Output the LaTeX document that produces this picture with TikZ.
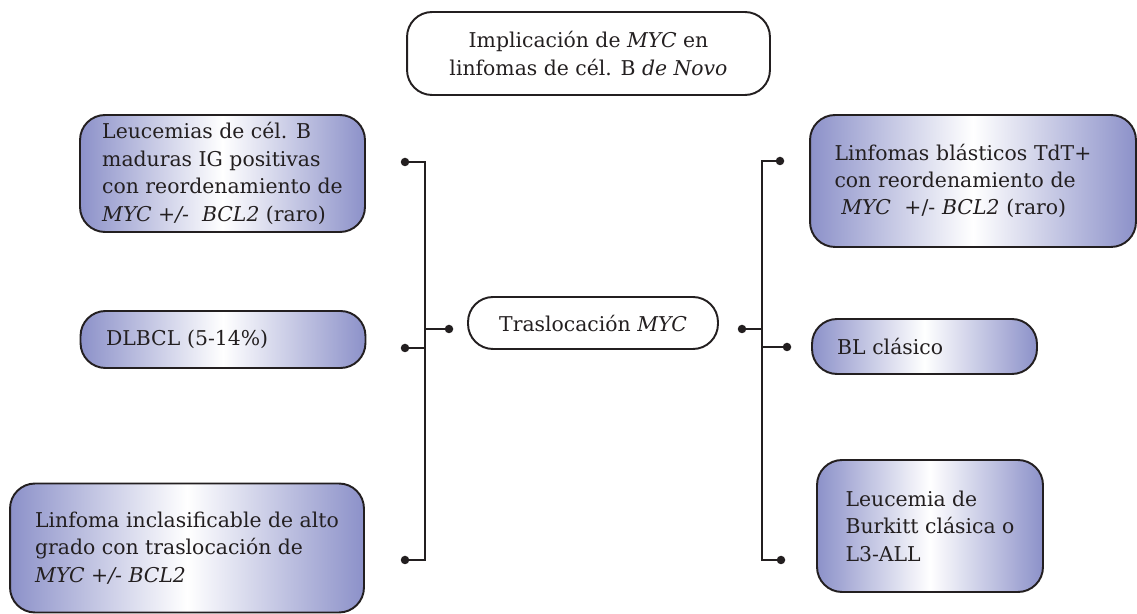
\documentclass[tikz,border=0pt]{standalone}
\usepackage{fontspec}
\setmainfont{DejaVu Serif}
\usepackage{tikz}
\definecolor{lila}{RGB}{140,145,201}
\definecolor{tinta}{RGB}{35,31,32}

\begin{document}
\begin{tikzpicture}[
    x=0.02cm, y=-0.02cm,
    caja/.style={draw=tinta,line width=1.1pt,rounded corners=0.5cm,align=left,
      text=tinta,font=\fontsize{11.6}{15.6}\selectfont},
    grad/.style={caja,left color=lila,right color=lila,middle color=white},
    punto/.style={circle,fill=tinta,inner sep=0pt,minimum size=0.17cm},
    linea/.style={draw=tinta,line width=1.1pt}
    ]
    \useasboundingbox (0,0) rectangle (1137,614);

    \node[caja, align=center, minimum width=7.26cm, minimum height=1.66cm] (titulo) at (588.5,53.5)
      {Implicación de \textit{MYC} en\\linfomas de cél. B \textit{de Novo}};
    \node[caja, minimum width=5cm, minimum height=1.04cm] (myc) at (593,323) {Traslocación \textit{MYC}};

    \node[grad, minimum width=5.7cm, minimum height=2.34cm] (leuc) at (222.5,173.5)
      {Leucemias de cél. B\\maduras IG positivas\\con reordenamiento de\\\textit{MYC +/-\ \ BCL2} (raro)};
    \node[grad, text width=4.68cm, minimum width=5.7cm, minimum height=1.14cm] (dlbcl) at (223,339.5) {DLBCL (5-14\%)};
    \node[grad, minimum width=7.08cm, minimum height=2.58cm] (incl) at (187,548)
      {Linfoma inclasificable de alto\\grado con traslocación de\\\textit{MYC +/- BCL2}};

    \node[grad, text width=5.54cm, minimum width=6.52cm, minimum height=2.64cm] (blast) at (973,181)
      {Linfomas blásticos TdT+\\con reordenamiento de\\\ \textit{MYC}\ \ +/- \textit{BCL2} (raro)};
    \node[grad, text width=3.5cm, minimum width=4.5cm, minimum height=1.1cm] (bl) at (924.5,346.5) {BL clásico};
    \node[grad, minimum width=4.52cm, minimum height=2.64cm] (burk) at (930,526)
      {Leucemia de\\Burkitt clásica o\\L3-ALL};

    % corchete izquierdo
    \node[punto] (pl1) at (405,162) {};
    \node[punto] (pl2) at (405,348) {};
    \node[punto] (pl3) at (405,560) {};
    \node[punto] (plc) at (449,329) {};
    \coordinate (lt) at (425,162);
    \coordinate (lb) at (425,560);
    \path[linea] (pl1.center) -- (lt) -- (lb) -- (pl3.center)
    (pl2.center) -- (pl2.center -| lt)
    (plc.center) -- (plc.center -| lt);

    % corchete derecho
    \node[punto] (pr1) at (780,161) {};
    \node[punto] (pr2) at (787,347) {};
    \node[punto] (pr3) at (781,560) {};
    \node[punto] (prc) at (742,329) {};
    \coordinate (rt) at (762,161);
    \coordinate (rb) at (762,560);
    \path[linea] (pr1.center) -- (rt) -- (rb) -- (pr3.center)
    (pr2.center) -- (pr2.center -| rt)
    (prc.center) -- (prc.center -| rt);

  \end{tikzpicture}
\end{document}
